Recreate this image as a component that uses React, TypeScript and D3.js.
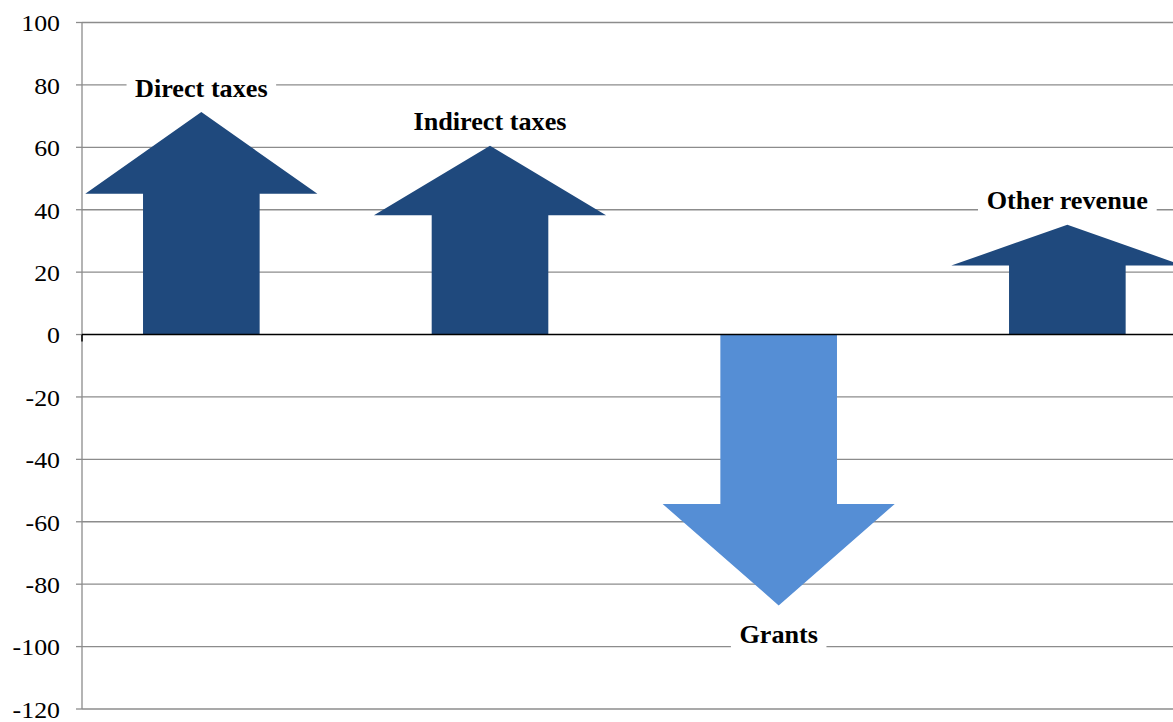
import React from "react";
import * as d3 from "d3";

const categories = ["Direct taxes", "Indirect taxes", "Grants", "Other revenue"];
const tipValues = [71.3, 60.5, -86.8, 35.2];
const headBaseValues = [45.1, 38.2, -54.3, 22.1];
const colors = ["#1F497D", "#1F497D", "#558ED5", "#1F497D"];
const yTicks = [100, 80, 60, 40, 20, 0, -20, -40, -60, -80, -100, -120];

const W = 1173;
const H = 722;
const FONT = "'Liberation Serif', 'Times New Roman', serif";

function measure(text: string, font: string): number {
  const c = document.createElement("canvas");
  const ctx = c.getContext("2d");
  if (!ctx) return text.length * 11;
  ctx.font = font;
  return ctx.measureText(text).width;
}

export default function App() {
  const y = d3.scaleLinear().domain([-120, 100]).range([709, 22.5]);
  const x = d3.scaleBand<string>().domain(categories).range([57, 57 + 4 * 288.67]).padding(0);
  const axisX = 82;
  const bw = x.bandwidth();
  const shaftW = bw * 0.404;
  const headW = bw * 0.804;
  const grid = "#8C8C8C";
  const labelSize = 26.2;

  return (
    <div style={{ position: "fixed", left: 0, top: 0 }}>
      <svg width={W} height={H} style={{ display: "block", background: "#fff" }}>
        {yTicks.filter((t) => t !== 0).map((t) => (
          <line key={t} x1={axisX} x2={W} y1={y(t)} y2={y(t)} stroke={grid} strokeWidth={1.3} />
        ))}
        {yTicks.map((t) => (
          <line key={"tm" + t} x1={axisX - 6} x2={axisX} y1={y(t)} y2={y(t)} stroke={grid} strokeWidth={1.3} />
        ))}
        <line x1={axisX} x2={axisX} y1={y(100)} y2={y(-120)} stroke={grid} strokeWidth={1.3} />
        {yTicks.map((t) => (
          <text
            key={"tl" + t}
            transform={`translate(60,${y(t) + 8.8}) scale(1.15,1)`}
            textAnchor="end"
            style={{ fontFamily: FONT }}
            fontSize={22.5}
            fill="#000"
          >
            {t}
          </text>
        ))}
        {categories.map((c, i) => {
          const cx = (x(c) as number) + bw / 2;
          const y0 = y(0);
          const yb = y(headBaseValues[i]);
          const yt = y(tipValues[i]);
          const p = d3.path();
          p.moveTo(cx - shaftW / 2, y0);
          p.lineTo(cx - shaftW / 2, yb);
          p.lineTo(cx - headW / 2, yb);
          p.lineTo(cx, yt);
          p.lineTo(cx + headW / 2, yb);
          p.lineTo(cx + shaftW / 2, yb);
          p.lineTo(cx + shaftW / 2, y0);
          p.closePath();
          return <path key={c} d={p.toString()} fill={colors[i]} />;
        })}
        <line x1={axisX} x2={W} y1={y(0)} y2={y(0)} stroke="#000" strokeWidth={1.5} />
        <line x1={axisX} x2={axisX} y1={y(0)} y2={y(0) + 7} stroke="#000" strokeWidth={1.5} />
        {categories.map((c, i) => {
          const cx = (x(c) as number) + bw / 2;
          const pos = tipValues[i] >= 0;
          const by = pos ? y(tipValues[i]) - 15.3 : y(tipValues[i]) + 37.6;
          const tw = measure(c, `bold ${labelSize}px 'Liberation Serif'`);
          return (
            <g key={"lb" + c}>
              <rect x={cx - tw / 2 - 8.5} y={by - 22} width={tw + 17} height={30} fill="#fff" />
              <text
                x={cx}
                y={by}
                textAnchor="middle"
                style={{ fontFamily: FONT }}
                fontSize={labelSize}
                fontWeight="bold"
                fill="#000"
              >
                {c}
              </text>
            </g>
          );
        })}
      </svg>
    </div>
  );
}
